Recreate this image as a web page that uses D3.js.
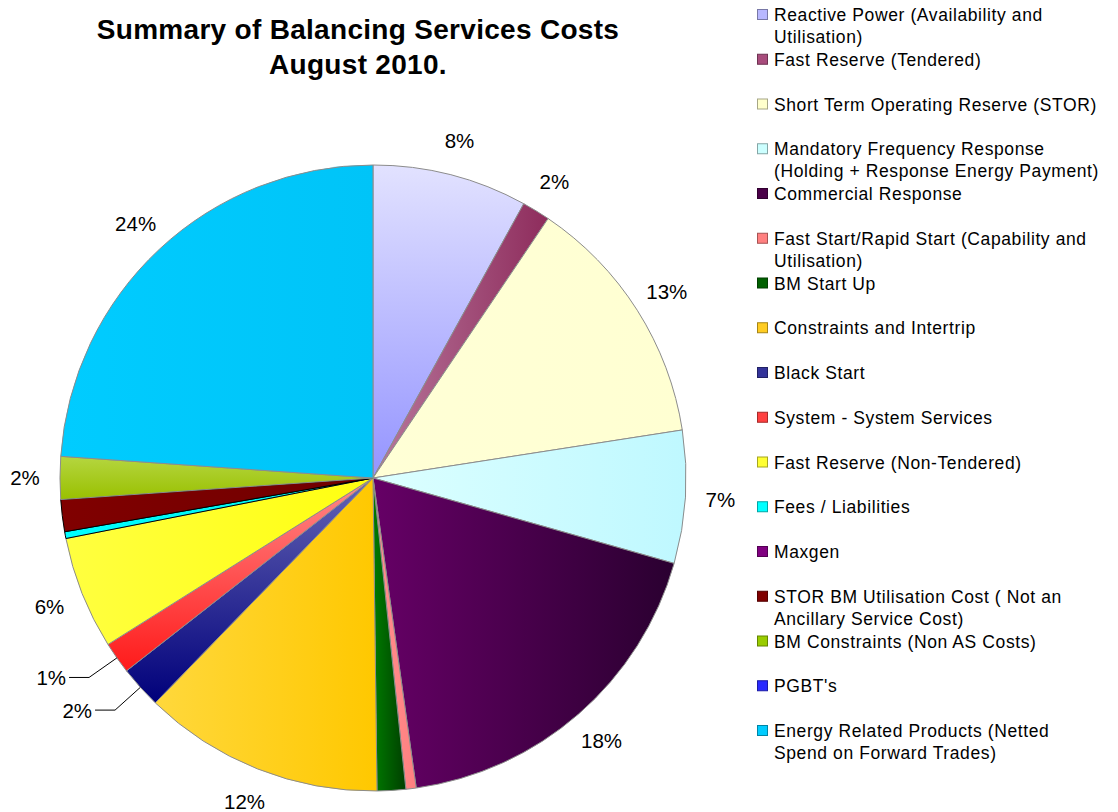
<!DOCTYPE html>
<html>
<head>
<meta charset="utf-8">
<script src="https://cdn.jsdelivr.net/npm/d3@7"></script>
<style>
  body { margin: 0; background: #fff; }
  svg { font-family: "Liberation Sans", Arial, sans-serif; }
</style>
</head>
<body>
<div id="chart"></div>
<script>
// Data
const categories = [
    "Reactive Power (Availability and|Utilisation)",
    "Fast Reserve (Tendered)",
    "Short Term Operating Reserve (STOR)",
    "Mandatory Frequency Response|(Holding + Response Energy Payment)",
    "Commercial Response",
    "Fast Start/Rapid Start (Capability and|Utilisation)",
    "BM Start Up",
    "Constraints and Intertrip",
    "Black Start",
    "System - System Services",
    "Fast Reserve (Non-Tendered)",
    "Fees / Liabilities",
    "Maxgen",
    "STOR BM Utilisation Cost ( Not an|Ancillary Service Cost)",
    "BM Constraints (Non AS Costs)",
    "PGBT's",
    "Energy Related Products (Netted|Spend on Forward Trades)"
];
const shares = [8.0, 1.45, 13.1, 6.85, 18.4, 0.53, 1.47, 12.45, 2.19, 1.64, 5.83, 0.35, 0, 1.65, 2.2, 0, 23.9];
const sliceLabels = ["8%", "2%", "13%", "7%", "18%", "", "", "12%", "2%", "1%", "6%", "", "", "", "2%", "", "24%"];
const leaderSlices = ["Black Start", "System - System Services"];

// Colours: [light, dark, direction]
const fills = [
    ["#e2e2ff", "#9494ff", "v"],
    ["#b8779c", "#8e2c5c", "h"],
    ["#ffffd6", "#ffffd2", "h"],
    ["#dcffff", "#bff8ff", "h"],
    ["#660066", "#2a0030", "h"],
    ["#ff9090", "#ff8080", "h"],
    ["#007a00", "#003f00", "h"],
    ["#ffd83c", "#ffc800", "h"],
    ["#6565b5", "#00007a", "v"],
    ["#ff8a8a", "#ff1a1a", "v"],
    ["#ffff40", "#ffff10", "h"],
    ["#00ffff", "#00f0f0", "h"],
    ["#800080", "#600060", "h"],
    ["#800000", "#700000", "h"],
    ["#b5d640", "#99c000", "v"],
    ["#4444ff", "#1a1acc", "v"],
    ["#00ccff", "#00c4f8", "h"]
];
const legendSwatch = ["#b8b8ff", "#a84c7c", "#ffffcc", "#ccffff", "#4a0048", "#ff8080", "#006000",
    "#ffcc22", "#333399", "#ff4040", "#ffff33", "#00ffff", "#800080", "#800000", "#99cc00", "#2a2aff", "#00ccff"];
const darkOutline = ["Fees / Liabilities", "STOR BM Utilisation Cost ( Not an|Ancillary Service Cost)"];

const w = 1118, h = 812;
const cx = 373, cy = 478, r = 313;

const svg = d3.select('#chart').append('svg')
    .attr('width', w)
    .attr('height', h);

const defs = svg.append('defs');
fills.forEach((f, i) => {
    const g = defs.append('linearGradient')
        .attr('id', 'grad' + i)
        .attr('x1', 0).attr('y1', 0)
        .attr('x2', f[2] === 'h' ? 1 : 0)
        .attr('y2', f[2] === 'v' ? 1 : 0);
    g.append('stop').attr('offset', '0%').attr('stop-color', f[0]);
    g.append('stop').attr('offset', '100%').attr('stop-color', f[1]);
});

// Title
svg.append('text')
    .attr('x', 358).attr('y', 39)
    .attr('text-anchor', 'middle')
    .attr('font-size', 28).attr('font-weight', 'bold')
    .attr('letter-spacing', 0.3)
    .text('Summary of Balancing Services Costs');
svg.append('text')
    .attr('x', 358).attr('y', 74)
    .attr('text-anchor', 'middle')
    .attr('font-size', 28).attr('font-weight', 'bold')
    .attr('letter-spacing', 0.3)
    .text('August 2010.');

// Pie
const data = categories.map((c, i) => ({ name: c, value: shares[i], label: sliceLabels[i], idx: i }));
const pie = d3.pie().sort(null).value(d => d.value);
const arcs = pie(data);
const arc = d3.arc().innerRadius(0).outerRadius(r);

const g = svg.append('g').attr('transform', `translate(${cx},${cy})`);

g.selectAll('path')
    .data(arcs.filter(a => a.data.value > 0))
    .enter()
    .append('path')
    .attr('d', arc)
    .attr('fill', d => `url(#grad${d.data.idx})`)
    .attr('stroke', d => darkOutline.includes(d.data.name) ? '#000' : '#8c8c8c')
    .attr('stroke-width', 1)
    .attr('stroke-linejoin', 'round');

// Labels
const polar = (a, rr) => [Math.sin(a) * rr, -Math.cos(a) * rr];
arcs.filter(a => a.data.label).forEach(a => {
    const mid = (a.startAngle + a.endAngle) / 2;
    if (leaderSlices.includes(a.data.name)) {
        const p0 = polar(mid, r);
        const p1 = polar(mid, r + 34);
        const p2 = [p1[0] - 20, p1[1]];
        g.append('polyline')
            .attr('points', [p0, p1, p2].map(p => p.join(',')).join(' '))
            .attr('fill', 'none')
            .attr('stroke', '#000')
            .attr('stroke-width', 1);
        g.append('text')
            .attr('x', p2[0] - 3).attr('y', p2[1])
            .attr('text-anchor', 'end')
            .attr('dominant-baseline', 'central')
            .attr('font-size', 20.5)
            .text(a.data.label);
    } else {
        const p = polar(mid, 348);
        g.append('text')
            .attr('x', p[0]).attr('y', p[1])
            .attr('text-anchor', 'middle')
            .attr('dominant-baseline', 'central')
            .attr('font-size', 20.5)
            .text(a.data.label);
    }
});

// Legend
const legend = svg.append('g').attr('id', 'legend');
categories.forEach((c, i) => {
    const y = 15 + i * 44.75;
    legend.append('rect')
        .attr('x', 757.5).attr('y', y - 5.5)
        .attr('width', 10).attr('height', 10)
        .attr('fill', legendSwatch[i])
        .attr('stroke', d3.color(legendSwatch[i]).darker(1.2))
        .attr('stroke-width', 1);
    c.split('|').forEach((line, j) => {
        legend.append('text')
            .attr('x', 774).attr('y', y + j * 22)
            .attr('dominant-baseline', 'central')
            .attr('font-size', 17.5)
            .attr('letter-spacing', 0.6)
            .text(line);
    });
});
</script>
</body>
</html>
